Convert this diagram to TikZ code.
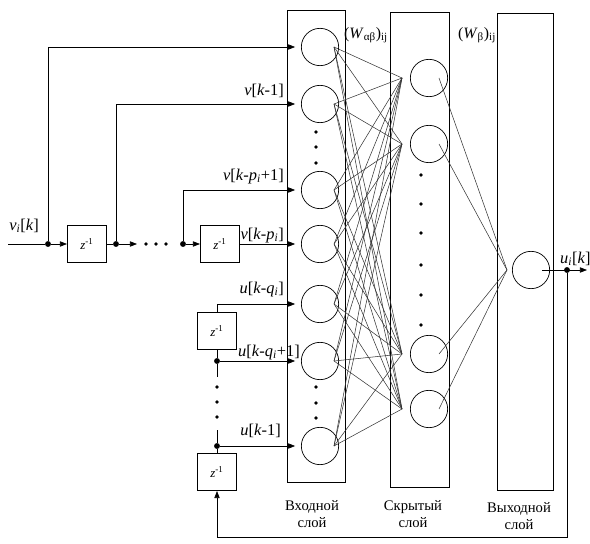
\documentclass[tikz,border=0pt]{standalone}
\usepackage{fontspec}
\setmainfont{Liberation Serif}
\usetikzlibrary{calc,arrows.meta,positioning}
\newcommand{\zinv}{\textit{z}\textsuperscript{-1}}
\tikzset{
  wire/.style={line width=0.6pt},
  sig/.style={wire, -{Triangle[length=6pt,width=4.5pt]}},
  feed/.style={sig, shorten >=5pt},
  weight/.style={line width=0.45pt, black!80},
  neuron/.style={circle, draw, line width=0.6pt, minimum size=1.12cm, inner sep=0pt},
  delay/.style={draw, line width=0.6pt, minimum width=1.18cm, minimum height=1.12cm, inner sep=0pt, font=\fontsize{11}{12}\selectfont},
  junc/.style={circle, fill, inner sep=0pt, minimum size=5pt},
  lbl/.style={inner sep=0pt, font=\fontsize{14}{16}\selectfont},
  lyr/.style={align=center, inner sep=0pt, font=\fontsize{12.5}{14.5}\selectfont},
}

\begin{document}
\begin{tikzpicture}[x=0.03cm, y=-0.03cm]
\useasboundingbox (0,0) rectangle (590,544);

% слои
\draw[wire] (287,10) rectangle (345,482);
\draw[wire] (390,12) rectangle (449,487);
\draw[wire] (497,13) rectangle (553,490);
\node[lyr] at (312,514) {Входной\\слой};
\node[lyr] at (413,514) {Скрытый\\слой};
\node[lyr] at (519,516) {Выходной\\слой};

% нейроны
\foreach \n/\y in {1/47,2/104,3/190,4/244,5/304,6/361,7/446}{
  \node[neuron] (in\n) at (320,\y) {};
  \coordinate (ia\n) at ($(in\n.center)+(14,0)$);
}
\foreach \n/\y in {1/78,2/144,3/354,4/409}{
  \node[neuron] (h\n) at (429,\y) {};
  \coordinate (hb\n) at ($(h\n.center)+(-27,0)$);
  \coordinate (hc\n) at ($(h\n.center)+(10,0)$);
}
\node[neuron] (out) at (531,270) {};
\coordinate (ob) at ($(out.center)+(-24,0)$);
\foreach \y in {132,147,163,387,403,418}{
  \fill (316,\y) circle (1.6pt);
}
\foreach \y in {175,204,233,265,295,325}{
  \fill (421,\y) circle (1.6pt);
}

% веса
\foreach \n in {1,...,7}{
  \foreach \m in {1,...,4}{
    \draw[weight] (ia\n) -- (hb\m);
  }
}
\foreach \m in {1,...,4}{
  \draw[weight] (hc\m) -- (ob);
}
\node[lbl, font=\fontsize{13.5}{15}\selectfont] at (366,35) {(\textit{W}\textsubscript{αβ})\textsubscript{ij}};
\node[lbl, font=\fontsize{13.5}{15}\selectfont] at (477,35) {(\textit{W}\textsubscript{β})\textsubscript{ij}};

% линия задержек по v
\coordinate (src) at (8,244);
\node[junc] (j0) at (48,244) {};
\node[delay] (d1) at (87,244) {\zinv};
\node[junc] (j1) at (116,244) {};
\coordinate (e1) at (137,244);
\foreach \x in {146,156,166}{
  \fill (\x,244) circle (1.6pt);
}
\node[junc] (j2) at (183,244) {};
\node[delay] (d2) at (220,244) {\zinv};
\draw[wire] (src) -- (j0);
\draw[sig] (j0) -- (d1);
\draw[wire] (d1) -- (j1);
\draw[sig] (j1) -- (e1);
\draw[sig] (j2) -- (d2);
\draw[feed] (j0) |- (in1.west);
\draw[feed] (j1) |- (in2.west);
\draw[feed] (j2) |- (in3.west);
\draw[feed] (d2) -- (in4.west);
\node[lbl] at (24,226) {\textit{v}\textsubscript{\textit{i}}[\textit{k}]};
\node[lbl, anchor=south east] at (284,98) {\textit{v}[\textit{k}-1]};
\node[lbl, anchor=south east] at (284,184) {\textit{v}[\textit{k}-\textit{p}\textsubscript{\textit{i}}+1]};
\node[lbl, anchor=south east] at (284,243) {\textit{v}[\textit{k}-\textit{p}\textsubscript{\textit{i}}]};

% линия задержек по u
\node[delay] (d3) at (217,331) {\zinv};
\node[junc] (j3) at (217,361) {};
\coordinate (t3) at (217,377);
\foreach \y in {387,402,417}{
  \fill (217,\y) circle (1.6pt);
}
\coordinate (t4) at (217,430);
\node[junc] (j4) at (217,446) {};
\node[delay] (d4) at (217,472) {\zinv};
\draw[feed] (d3.north) |- (in5.west);
\draw[wire] (j3) -- (d3);
\draw[feed] (j3) -- (in6.west);
\draw[wire] (j3) -- (t3);
\draw[wire] (t4) -- (j4);
\draw[feed] (j4) -- (in7.west);
\draw[wire] (j4) -- (d4);
\node[lbl, anchor=south east] at (284,297) {\textit{u}[\textit{k}-\textit{q}\textsubscript{\textit{i}}]};
\node[lbl, anchor=south east] at (300,360) {\textit{u}[\textit{k}-\textit{q}\textsubscript{\textit{i}}+1]};
\node[lbl, anchor=south east] at (281,438) {\textit{u}[\textit{k}-1]};

% выход и обратная связь
\coordinate (oa) at ($(out.center)+(11,0)$);
\coordinate (oe) at (587,270);
\node[junc] (jo) at (567,270) {};
\draw[sig] (oa) -- (oe);
\coordinate (fb) at (567,537);
\draw[sig] (jo) -- (fb) -| (d4.south);
\node[lbl, anchor=south west] at (560,266) {\textit{u}\textsubscript{\textit{i}}[\textit{k}]};

\end{tikzpicture}
\end{document}
